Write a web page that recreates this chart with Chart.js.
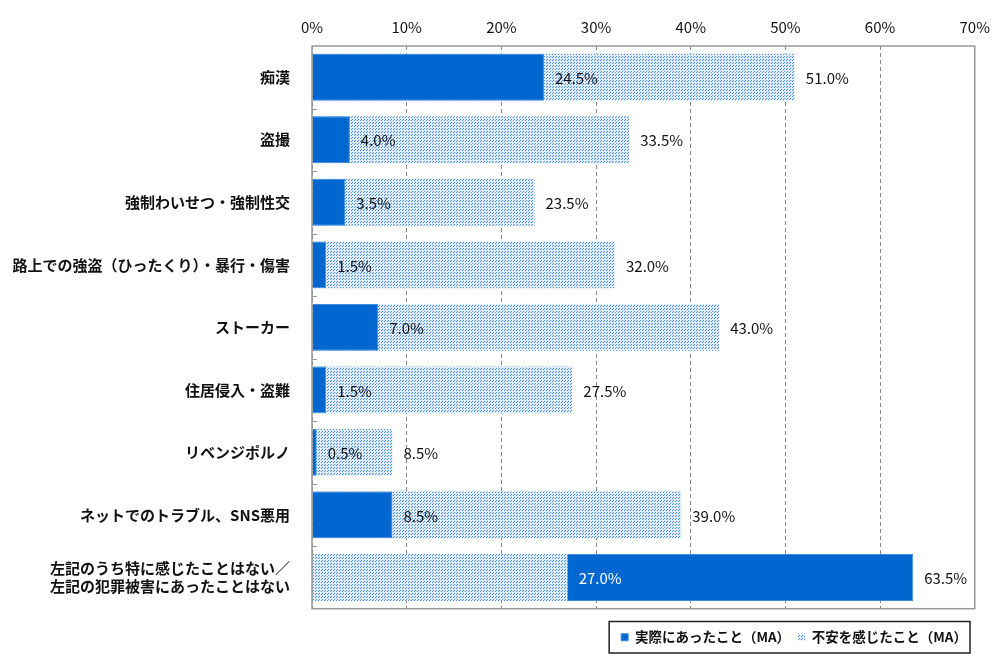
<!DOCTYPE html>
<html>
<head>
<meta charset="utf-8">
<script src="https://cdn.jsdelivr.net/npm/chart.js@4"></script>
<style>
  html, body { margin: 0; padding: 0; background: #fff; }
  #wrap { width: 1000px; height: 661px; }
</style>
</head>
<body>
<div id="wrap"><canvas id="chart"></canvas></div>
<script>
const categories = [
    "痴漢",
    "盗撮",
    "強制わいせつ・強制性交",
    "路上での強盗（ひったくり）・暴行・傷害",
    "ストーカー",
    "住居侵入・盗難",
    "リベンジポルノ",
    "ネットでのトラブル、SNS悪用",
    ["左記のうち特に感じたことはない／", "左記の犯罪被害にあったことはない"]
];
const seriesNames = ["実際にあったこと（MA）", "不安を感じたこと（MA）"];
const actual = [24.5, 4.0, 3.5, 1.5, 7.0, 1.5, 0.5, 8.5, 63.5];
const anxious = [51.0, 33.5, 23.5, 32.0, 43.0, 27.5, 8.5, 39.0, 27.0];
const xTicks = ["0%", "10%", "20%", "30%", "40%", "50%", "60%", "70%"];

const FONT = "'Noto Sans CJK JP', 'Noto Sans', sans-serif";

// dotted fill for the second series
const make_dots = function () {
    const c = document.createElement("canvas");
    c.width = 3; c.height = 3;
    const g = c.getContext("2d");
    g.fillStyle = "#e4eefb";
    g.fillRect(0, 0, 3, 3);
    g.fillStyle = "#3f8ae0";
    g.fillRect(0, 0, 1, 1);
    g.fillRect(1, 2, 1, 1);
    return g.createPattern(c, "repeat");
};
const dots = make_dots();

// last row: the dotted bar sits in front of the blue one
const anxiousFront = anxious.map((v, i) => (v < actual[i] ? v : null));

const framePlugin = {
    id: "frame",
    afterDatasetsDraw(chart) {
        const ctx = chart.ctx;
        const a = chart.chartArea;
        // value labels
        ctx.save();
        ctx.font = "15px " + FONT;
        ctx.textAlign = "left";
        ctx.textBaseline = "middle";
        [0, 1].forEach(d => {
            const meta = chart.getDatasetMeta(d);
            const vals = d === 0 ? actual : anxious;
            meta.data.forEach((el, i) => {
                const onBlue = d === 1 && vals[i] < actual[i];
                ctx.fillStyle = onBlue ? "#ffffff" : "#111111";
                ctx.fillText(vals[i].toFixed(1) + "%", el.x + 11, el.y + 1);
            });
        });
        // plot border and inner category ticks
        ctx.strokeStyle = "#999";
        ctx.lineWidth = 1.5;
        ctx.strokeRect(a.left, a.top, a.right - a.left, a.bottom - a.top);
        ctx.lineWidth = 1;
        const step = (a.bottom - a.top) / categories.length;
        for (let i = 1; i < categories.length; i++) {
            const y = Math.round(a.top + step * i) + 0.5;
            ctx.beginPath();
            ctx.moveTo(a.left, y);
            ctx.lineTo(a.left + 5, y);
            ctx.stroke();
        }
        ctx.restore();
    },
    afterDraw(chart) {
        const boxes = chart.legend.legendHitBoxes;
        if (!boxes || !boxes.length) return;
        const first = boxes[0];
        const last = boxes[boxes.length - 1];
        const ctx = chart.ctx;
        ctx.save();
        ctx.strokeStyle = "#222";
        ctx.lineWidth = 1.5;
        ctx.strokeRect(first.left - 12, first.top - 9, last.left + last.width - first.left + 15, first.height + 18);
        ctx.restore();
    }
};

new Chart(document.getElementById("chart").getContext("2d"), {
    type: "bar",
    data: {
        labels: categories,
        datasets: [
            {
                label: seriesNames[0],
                data: actual,
                backgroundColor: "#0066d0",
                borderColor: "#3a8ce2",
                borderWidth: 1,
                grouped: false,
                order: 2,
            },
            {
                label: seriesNames[1],
                data: anxious,
                backgroundColor: dots,
                borderWidth: 0,
                grouped: false,
                order: 3,
            },
            {
                label: "front",
                data: anxiousFront,
                backgroundColor: dots,
                borderWidth: 0,
                grouped: false,
                order: 1,
            }
        ]
    },
    options: {
        indexAxis: "y",
        responsive: true,
        maintainAspectRatio: false,
        animation: false,
        categoryPercentage: 1,
        barPercentage: 0.75,
        layout: {
            padding: { left: 5, right: 25, top: 8, bottom: 7 }
        },
        scales: {
            x: {
                position: "top",
                min: 0,
                max: 70,
                ticks: {
                    stepSize: 10,
                    padding: 10,
                    color: "#111",
                    font: { family: FONT, size: 15 },
                    callback: (v) => xTicks[v / 10],
                },
                grid: {
                    color: "#888",
                    drawTicks: false,
                },
                border: { display: false, dash: [4, 3] },
            },
            y: {
                ticks: {
                    padding: 14,
                    color: "#111",
                    font: { family: FONT, size: 15, weight: "bold" },
                },
                grid: { display: false },
                border: { display: false },
                afterFit: (s) => { s.width = 307; },
            }
        },
        plugins: {
            legend: {
                position: "bottom",
                align: "end",
                title: { display: true, text: "", font: { size: 11.5 }, padding: 0 },
                labels: {
                    boxWidth: 7,
                    boxHeight: 7,
                    padding: 8,
                    color: "#111",
                    font: { family: FONT, size: 13.5, weight: "bold" },
                    filter: (item) => item.datasetIndex < 2,
                }
            },
            tooltip: { enabled: false },
        }
    },
    plugins: [framePlugin]
});
</script>
</body>
</html>
